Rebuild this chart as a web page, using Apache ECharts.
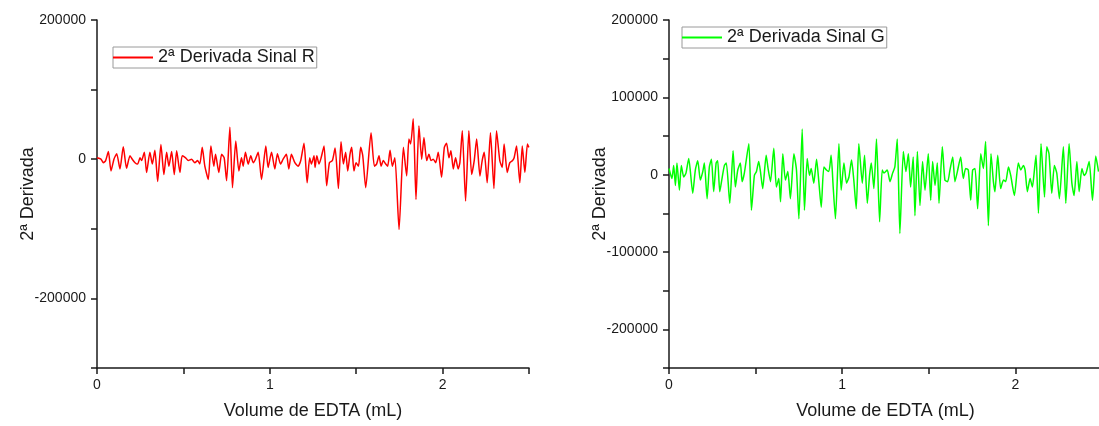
<!DOCTYPE html>
<html>
<head>
<meta charset="utf-8">
<script src="https://cdn.jsdelivr.net/npm/echarts@6/dist/echarts.min.js"></script>
<style>
  html, body { margin: 0; padding: 0; background: #fff; }
  #chart { width: 1099px; height: 426px; }
</style>
</head>
<body>
<div id="chart"></div>
<script>
// Second derivative of the R and G colour signals versus EDTA volume (mL)
const volR = [
  0.000,0.023,0.037,0.050,0.066,0.081,0.098,0.114,0.133,0.152,
  0.171,0.191,0.204,0.220,0.235,0.249,0.258,0.274,0.287,0.306,
  0.320,0.335,0.351,0.370,0.387,0.403,0.416,0.432,0.447,0.461,
  0.480,0.493,0.513,0.528,0.547,0.566,0.582,0.595,0.609,0.624,
  0.644,0.659,0.676,0.686,0.705,0.721,0.736,0.750,0.769,0.784,
  0.803,0.821,0.836,0.846,0.859,0.875,0.890,0.904,0.917,0.933,
  0.952,0.977,0.990,1.010,1.029,1.044,1.062,1.077,1.096,1.110,
  1.125,1.145,1.164,1.179,1.198,1.216,1.231,1.241,1.256,1.262,
  1.272,1.285,1.297,1.314,1.329,1.345,1.362,1.378,1.397,1.412,
  1.426,1.439,1.451,1.464,1.474,1.487,1.499,1.513,1.526,1.538,
  1.555,1.586,1.605,1.618,1.632,1.644,1.657,1.671,1.682,1.696,
  1.709,1.724,1.748,1.773,1.792,1.805,1.815,1.830,1.846,1.863,
  1.879,1.892,1.908,1.921,1.933,1.946,1.960,1.975,1.994,2.010,
  2.023,2.037,2.048,2.062,2.075,2.090,2.100,2.114,2.133,2.152,
  2.168,2.183,2.197,2.216,2.229,2.241,2.258,2.277,2.297,2.312,
  2.331,2.345,2.356,2.374,2.389,2.405,2.414,2.428,2.447,2.461,
  2.476,2.491,2.499
];
const derivR = [
  2000,0,-5000,-2000,11000,-17000,0,8000,-14000,18000,
  -13000,5000,0,-5000,-7000,2000,-2000,10000,-19000,10000,
  -7000,13000,-32000,21000,-22000,10000,-10000,11000,-22000,12000,
  -19000,5000,2000,-2000,0,-5000,-2000,-7000,17000,-10000,
  -29000,19000,-10000,7000,-19000,7000,2000,-31000,46000,-41000,
  26000,-17000,2000,-10000,10000,-7000,5000,-5000,0,10000,
  -29000,19000,-12000,10000,-14000,8000,-7000,0,7000,-14000,
  7000,-5000,-10000,-2000,23000,-34000,2000,-7000,5000,-12000,
  5000,-7000,2000,19000,-38000,-5000,-2000,16000,-42000,25000,
  -7000,10000,-17000,7000,17000,-17000,-5000,-10000,17000,5000,
  -41000,38000,-10000,-7000,5000,-10000,-2000,-7000,-10000,13000,
  -10000,2000,-101000,17000,-24000,29000,22000,58000,-58000,48000,
  0,31000,-2000,7000,-2000,0,-5000,10000,-26000,17000,
  23000,2000,12000,-14000,2000,-14000,-5000,41000,-60000,41000,
  -22000,-2000,29000,-24000,-2000,10000,-34000,38000,-42000,41000,
  -2000,-12000,22000,-19000,-5000,-2000,2000,19000,-34000,19000,
  -19000,22000,17000
];
const volG = [
  0.000,0.017,0.027,0.037,0.046,0.060,0.071,0.085,0.098,0.114,
  0.137,0.152,0.166,0.181,0.195,0.204,0.220,0.233,0.245,0.258,
  0.272,0.281,0.293,0.306,0.320,0.331,0.351,0.370,0.383,0.397,
  0.412,0.422,0.435,0.461,0.476,0.493,0.505,0.518,0.528,0.541,
  0.561,0.572,0.586,0.605,0.620,0.634,0.644,0.657,0.672,0.686,
  0.701,0.721,0.736,0.750,0.769,0.782,0.798,0.811,0.821,0.836,
  0.852,0.865,0.879,0.894,0.909,0.923,0.936,0.948,0.961,0.981,
  0.994,1.010,1.025,1.039,1.054,1.067,1.081,1.096,1.116,1.129,
  1.145,1.158,1.168,1.183,1.198,1.216,1.231,1.241,1.260,1.276,
  1.291,1.304,1.318,1.333,1.353,1.368,1.382,1.395,1.410,1.420,
  1.434,1.449,1.464,1.478,1.497,1.511,1.522,1.536,1.549,1.559,
  1.578,1.593,1.609,1.622,1.638,1.651,1.665,1.684,1.699,1.713,
  1.728,1.742,1.753,1.767,1.782,1.800,1.815,1.828,1.844,1.859,
  1.873,1.882,1.898,1.915,1.931,1.944,1.960,1.973,1.994,2.017,
  2.031,2.046,2.056,2.069,2.085,2.098,2.108,2.119,2.133,2.148,
  2.168,2.181,2.194,2.210,2.225,2.239,2.254,2.277,2.291,2.310,
  2.326,2.339,2.355,2.368,2.384,2.397,2.408,2.426,2.445,2.464,
  2.480
];
const derivG = [
  8000,-5000,12000,-14000,15000,-20000,12000,-3000,2000,21000,
  -24000,6000,18000,-7000,4000,15000,-31000,10000,20000,-22000,
  15000,18000,-22000,-5000,12000,15000,-37000,31000,-16000,6000,
  15000,-9000,2000,40000,-46000,-1000,4000,17000,4000,-18000,
  25000,8000,-9000,34000,-16000,-5000,-35000,27000,-7000,4000,
  -31000,27000,6000,-57000,59000,-46000,21000,-1000,8000,-11000,
  20000,-9000,-42000,10000,6000,4000,25000,-16000,-57000,40000,
  -20000,15000,-11000,-3000,19000,-7000,-44000,40000,-11000,25000,
  -37000,-1000,15000,-18000,46000,-61000,6000,2000,6000,-9000,
  2000,10000,46000,-76000,30000,4000,27000,-16000,23000,-53000,
  30000,-40000,17000,-20000,27000,-33000,17000,-14000,15000,-37000,
  36000,-7000,-9000,6000,23000,-9000,4000,23000,-5000,8000,
  6000,-33000,6000,8000,-44000,27000,8000,43000,-66000,27000,
  -9000,-22000,25000,-18000,-7000,-9000,10000,-1000,-27000,15000,
  6000,12000,6000,-22000,-5000,-16000,2000,25000,-50000,40000,
  -29000,36000,27000,-24000,12000,2000,-31000,36000,-37000,40000,
  -11000,-27000,17000,-22000,8000,-1000,2000,17000,-33000,24000,
  4000
];
const nameR = '2ª Derivada Sinal R';
const nameG = '2ª Derivada Sinal G';
const yTitle = '2ª Derivada';
const xTitle = 'Volume de EDTA (mL)';

const FONT = '"Liberation Sans", Arial, sans-serif';
const INK = '#1a1a1a';

const pairs = (xs, ys) => xs.map((x, i) => [x, ys[i]]);

function xAxisFor(gridIndex) {
  return {
    type: 'value', gridIndex, min: 0, max: 2.5, interval: 0.5,
    name: xTitle, nameLocation: 'middle', nameGap: 34, nameMoveOverlap: false,
    nameTextStyle: { fontFamily: FONT, fontSize: 18, color: INK },
    axisLine: { onZero: false, lineStyle: { color: INK, width: 1.5 } },
    axisTick: { length: 6, lineStyle: { color: INK, width: 1.5 } },
    axisLabel: {
      margin: 10, fontFamily: FONT, fontSize: 14, color: INK,
      formatter: v => (Math.abs(v - Math.round(v)) < 1e-9 ? String(Math.round(v)) : '')
    },
    splitLine: { show: false }
  };
}

function yAxisFor(gridIndex, min, max, interval, labelStep) {
  return {
    type: 'value', gridIndex, min, max, interval,
    name: yTitle, nameLocation: 'middle', nameGap: 60, nameMoveOverlap: false,
    nameTextStyle: { fontFamily: FONT, fontSize: 18, color: INK },
    axisLine: { show: true, lineStyle: { color: INK, width: 1.5 } },
    axisTick: { show: true, length: 6, lineStyle: { color: INK, width: 1.5 } },
    axisLabel: {
      margin: 11, fontFamily: FONT, fontSize: 14, color: INK,
      formatter: v => (Math.round(v) % labelStep === 0 ? String(Math.round(v)) : '')
    },
    splitLine: { show: false }
  };
}

function legendAt(left, top, name) {
  return {
    left, top, data: [name], orient: 'horizontal',
    icon: 'rect', itemWidth: 40, itemHeight: 2,
    borderColor: '#9a9a9a', borderWidth: 1, padding: [1, 2, 1, 0],
    textStyle: { fontFamily: FONT, fontSize: 18, color: INK, lineHeight: 19 },
    selectedMode: false
  };
}

const chart = echarts.init(document.getElementById('chart'), null, { renderer: 'canvas' });
chart.setOption({
  animation: false,
  backgroundColor: '#fff',
  grid: [
    { left: 97, top: 20, width: 432, height: 348, outerBoundsMode: 'none', containLabel: false },
    { left: 669, top: 20, width: 433, height: 348, outerBoundsMode: 'none', containLabel: false }
  ],
  xAxis: [xAxisFor(0), xAxisFor(1)],
  yAxis: [
    yAxisFor(0, -300000, 200000, 100000, 200000),
    yAxisFor(1, -250000, 200000, 50000, 100000)
  ],
  legend: [legendAt(113, 47, nameR), legendAt(682, 27, nameG)],
  series: [
    {
      name: nameR, type: 'line', xAxisIndex: 0, yAxisIndex: 0,
      data: pairs(volR, derivR), symbol: 'none', smooth: 0.2,
      lineStyle: { color: '#ff0000', width: 1.5 }, itemStyle: { color: '#ff0000' }
    },
    {
      name: nameG, type: 'line', xAxisIndex: 1, yAxisIndex: 1,
      data: pairs(volG, derivG), symbol: 'none', smooth: 0.2,
      lineStyle: { color: '#00ff00', width: 1.5 }, itemStyle: { color: '#00ff00' }
    }
  ]
});
</script>
</body>
</html>
